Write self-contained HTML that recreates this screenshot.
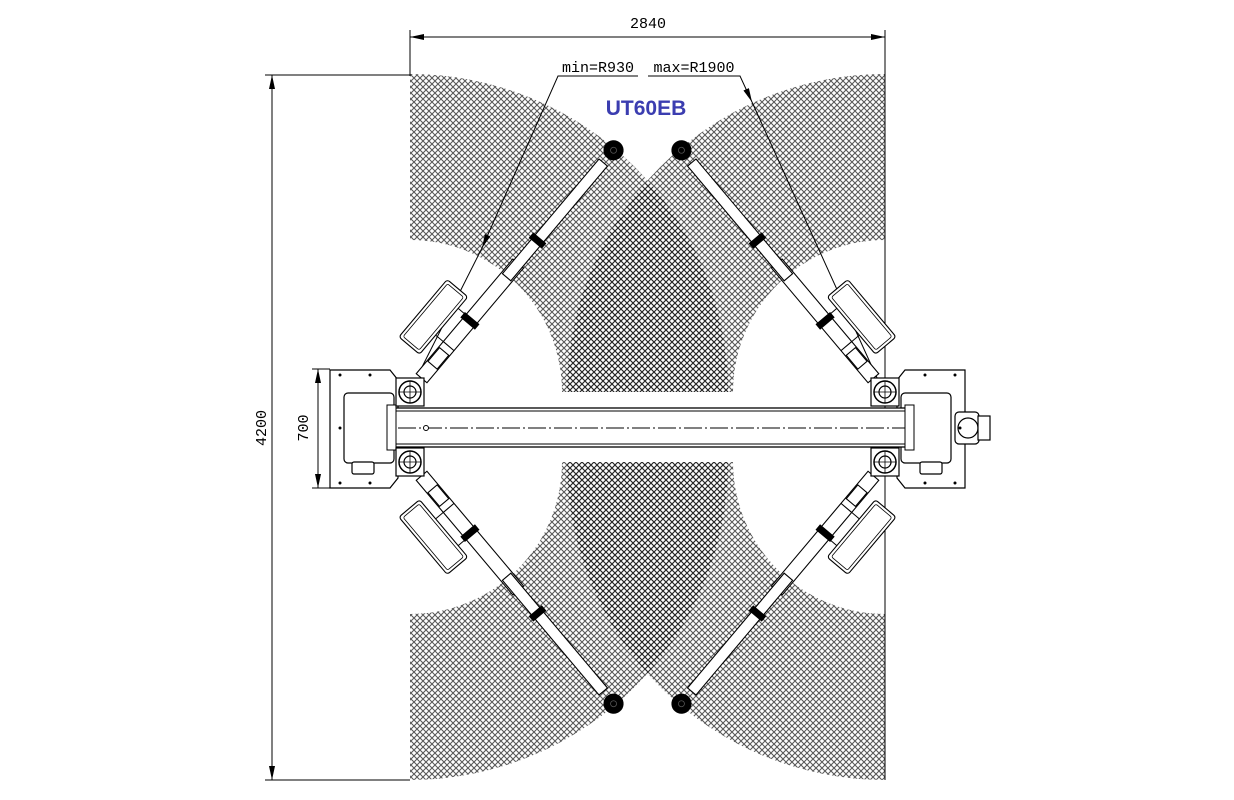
<!DOCTYPE html>
<html><head><meta charset="utf-8"><style>
html,body{margin:0;padding:0;background:#fff;}
svg{display:block;}
text{font-family:"Liberation Mono",monospace;}
</style></head><body>
<svg width="1234" height="800" viewBox="0 0 1234 800" xmlns="http://www.w3.org/2000/svg">
<defs>
<pattern id="h" patternUnits="userSpaceOnUse" width="6" height="6">
<path d="M-1,-1 L7,7 M7,-1 L-1,7" stroke="#111" stroke-width="1.1" stroke-opacity="0.7" fill="none"/>
</pattern>
<marker id="ar" viewBox="0 0 14 6" refX="14" refY="3" markerWidth="14" markerHeight="6" orient="auto-start-reverse" markerUnits="userSpaceOnUse">
<path d="M0,0 L14,3 L0,6 Z" fill="#000"/>
</marker>
<g id="arm" fill="#fff" stroke="#000" stroke-width="1.1">
<rect x="18" y="-7" width="150" height="14"/>
<rect x="150" y="-5.5" width="150" height="11"/>
<rect x="35" y="-6" width="18" height="12" fill="none"/>
<rect x="90" y="-9" width="6" height="18" fill="#000"/>
<rect x="195" y="-8" width="6" height="16" fill="#000"/>
<line x1="60" y1="-7" x2="60" y2="7"/>
<rect x="35" y="-44" width="75" height="27" rx="3"/>
<rect x="38" y="-41" width="69" height="21" rx="2" fill="none" stroke-width="0.8"/>
<line x1="60" y1="-17" x2="60" y2="-7" stroke-width="1"/>
<line x1="95" y1="-17" x2="95" y2="-7" stroke-width="1"/>
<circle cx="316" cy="0" r="9.5" fill="#000"/>
<circle cx="316" cy="0" r="3" fill="none" stroke="#555" stroke-width="0.8"/>
</g>
<g id="piv" fill="#fff" stroke="#000">
<rect x="-14" y="-14" width="28" height="28" stroke-width="1.2"/>
<circle r="11" stroke-width="1.5"/>
<circle r="6" stroke-width="1.2"/>
<line x1="-11" y1="0" x2="11" y2="0" stroke-width="0.8"/>
<line x1="0" y1="-11" x2="0" y2="11" stroke-width="0.8"/>
</g>
</defs>

<path d="M410,74 A318,318 0 0 1 728,392 L562,392 A152,152 0 0 0 410,240 Z" fill="url(#h)"/>
<path d="M885,74 A318,318 0 0 0 567,392 L733,392 A152,152 0 0 1 885,240 Z" fill="url(#h)"/>
<path d="M410,780 A318,318 0 0 0 728,462 L562,462 A152,152 0 0 1 410,614 Z" fill="url(#h)"/>
<path d="M885,780 A318,318 0 0 1 567,462 L733,462 A152,152 0 0 0 885,614 Z" fill="url(#h)"/>

<rect x="396" y="393" width="500" height="68" fill="#fff"/>

<g stroke="#000" stroke-width="1" fill="none">
<line x1="410" y1="30" x2="410" y2="76"/>
<line x1="885" y1="30" x2="885" y2="780"/>
<line x1="410" y1="37" x2="885" y2="37" marker-start="url(#ar)" marker-end="url(#ar)"/>
<line x1="265" y1="75" x2="410" y2="75"/>
<line x1="265" y1="780" x2="410" y2="780"/>
<line x1="272" y1="75" x2="272" y2="780" marker-start="url(#ar)" marker-end="url(#ar)"/>
<line x1="312" y1="369" x2="330" y2="369"/>
<line x1="312" y1="488" x2="330" y2="488"/>
<line x1="318" y1="369" x2="318" y2="488" marker-start="url(#ar)" marker-end="url(#ar)"/>
<polyline points="638,76 558,76 482,248" marker-end="url(#ar)"/>
<polyline points="648,76 740,76 752,102" marker-end="url(#ar)"/>
<line x1="752" y1="102" x2="878" y2="380"/>
<line x1="482" y1="248" x2="418" y2="375"/>
</g>
<text x="648" y="28" font-size="15" text-anchor="middle">2840</text>
<text x="0" y="0" font-size="15" text-anchor="middle" transform="translate(266,428) rotate(-90)">4200</text>
<text x="0" y="0" font-size="15" text-anchor="middle" transform="translate(308,428) rotate(-90)">700</text>
<text x="598" y="72" font-size="15" text-anchor="middle">min=R930</text>
<text x="694" y="72" font-size="15" text-anchor="middle">max=R1900</text>
<text x="646" y="115" font-size="21" font-weight="bold" fill="#3b3db0" text-anchor="middle" style="font-family:'Liberation Sans',sans-serif">UT60EB</text>

<g fill="#fff" stroke="#000" stroke-width="1.2">
<path d="M330,370 L390,370 L398,380 L398,478 L390,488 L330,488 Z"/>
<rect x="344" y="393" width="50" height="70" rx="4"/>
<rect x="352" y="462" width="22" height="12" rx="2"/>
<path d="M965,370 L905,370 L897,380 L897,478 L905,488 L965,488 Z"/>
<rect x="901" y="393" width="50" height="70" rx="4"/>
<rect x="920" y="462" width="22" height="12" rx="2"/>
<rect x="955" y="412" width="24" height="32" rx="4"/>
<circle cx="968" cy="428" r="10"/>
<rect x="978" y="416" width="12" height="24"/>
</g>
<g fill="#000">
<circle cx="340" cy="375" r="1.5"/><circle cx="370" cy="375" r="1.5"/><circle cx="340" cy="483" r="1.5"/><circle cx="370" cy="483" r="1.5"/>
<circle cx="925" cy="375" r="1.5"/><circle cx="955" cy="375" r="1.5"/><circle cx="925" cy="483" r="1.5"/><circle cx="955" cy="483" r="1.5"/>
<circle cx="340" cy="428" r="1.5"/><circle cx="960" cy="428" r="1.5"/>
</g>

<g stroke="#000" fill="#fff">
<rect x="395" y="408" width="517" height="39" stroke-width="1.3"/>
<line x1="395" y1="411" x2="912" y2="411" stroke-width="1"/>
<line x1="395" y1="444" x2="912" y2="444" stroke-width="1"/>
<line x1="398" y1="428" x2="908" y2="428" stroke-width="0.9" stroke-dasharray="18,3,2,3"/>
<rect x="387" y="405" width="9" height="45" stroke-width="1"/>
<rect x="905" y="405" width="9" height="45" stroke-width="1"/>
<circle cx="426" cy="428" r="2.5" stroke-width="1"/>
</g>

<use href="#arm" transform="translate(410,392) rotate(-49.9)"/>
<use href="#arm" transform="translate(885,392) scale(-1,1) rotate(-49.9)"/>
<use href="#arm" transform="translate(410,462) scale(1,-1) rotate(-49.9)"/>
<use href="#arm" transform="translate(885,462) scale(-1,-1) rotate(-49.9)"/>
<use href="#piv" transform="translate(410,392)"/>
<use href="#piv" transform="translate(885,392)"/>
<use href="#piv" transform="translate(410,462)"/>
<use href="#piv" transform="translate(885,462)"/>
</svg>
</body></html>
